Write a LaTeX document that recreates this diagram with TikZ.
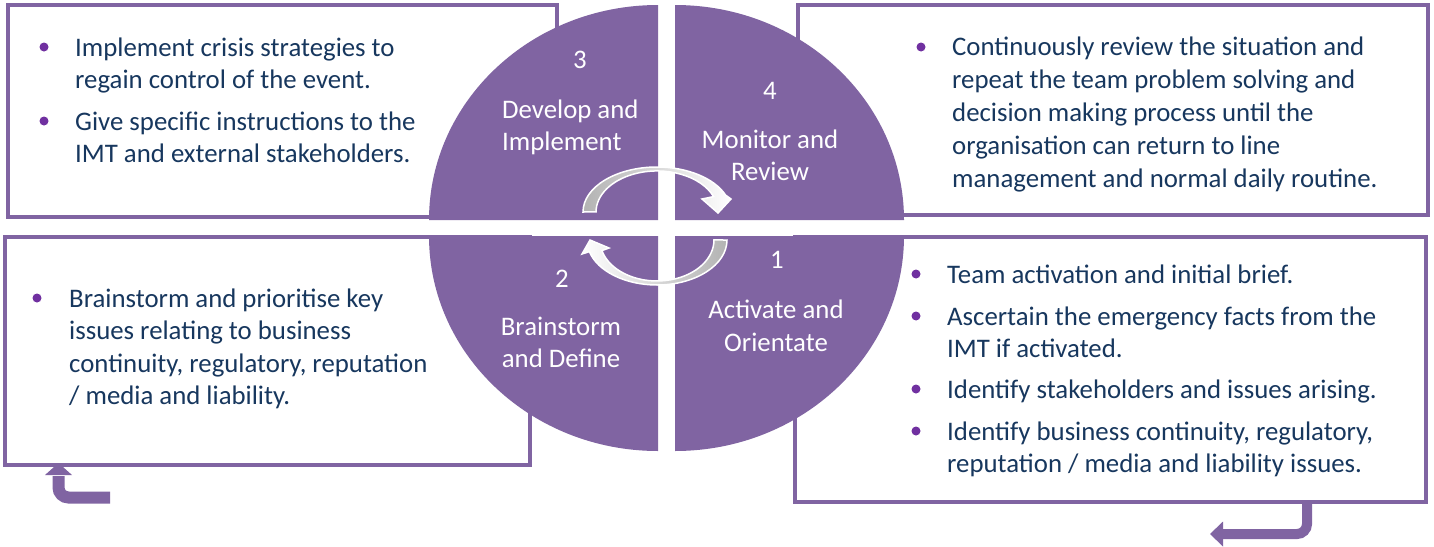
\documentclass[tikz,border=0pt]{standalone}
\usepackage{fontspec}
\setmainfont{Carlito}
\definecolor{purp}{HTML}{8064A2}
\definecolor{navy}{HTML}{17375E}
\definecolor{bulc}{HTML}{7030A0}
\newcommand\bodyfnt{\fontsize{26.8}{32.5}\selectfont}
\begin{document}
\begin{tikzpicture}[x=1pt,y=1pt,
  box/.style={draw=purp, line width=3.5pt},
  quad/.style={fill=purp},
  txt/.style={anchor=base west, inner sep=0pt, align=left, font=\bodyfnt, text=navy},
  dot/.style={circle, fill=bulc, inner sep=0pt, minimum size=9pt},
  lbl/.style={anchor=base, inner sep=0pt, align=center, font=\bodyfnt, text=white},
  lblL/.style={anchor=base west, inner sep=0pt, align=left, font=\bodyfnt, text=white},
  cyc/.style={draw=white, line width=1.5pt},
  bent/.style={draw=purp, rounded corners=10pt},
  head/.style={fill=purp}]
\path[use as bounding box, fill=white] (0,0) rectangle (1434,-546);

% text boxes
\draw[box] (8,-5) rectangle (557,-217);
\draw[box] (798,-5) rectangle (1428,-215);
\draw[box] (5,-237) rectangle (530,-465);
\draw[box] (795,-237) rectangle (1426,-502);

% circle quadrants
\fill[quad] (658,-220) -- (429,-220) arc[start angle=180, end angle=90, x radius=229pt, y radius=215pt] -- cycle;
\fill[quad] (675,-220) -- (904,-220) arc[start angle=0, end angle=90, x radius=229pt, y radius=215pt] -- cycle;
\fill[quad] (658,-236) -- (429,-236) arc[start angle=180, end angle=270, x radius=229pt, y radius=215pt] -- cycle;
\fill[quad] (675,-236) -- (904,-236) arc[start angle=0, end angle=-90, x radius=229pt, y radius=215pt] -- cycle;

% inner cycle arrows
\path[cyc, left color=black!30, middle color=black!8, right color=white]
  (583,-212) arc[start angle=180, end angle=22, x radius=74pt, y radius=45pt]
  -- (731,-199) -- (718,-213) -- (702,-199) -- (713.6,-196.6)
  arc[start angle=22, end angle=180, x radius=61pt, y radius=41pt] -- cycle;
\path[cyc, right color=black!30, middle color=black!8, left color=white]
  (727,-240) arc[start angle=0, end angle=-165, x radius=70pt, y radius=45pt]
  -- (582,-254) -- (590,-240) -- (609,-248) -- (601.9,-250.6)
  arc[start angle=-165, end angle=0, x radius=57pt, y radius=41pt] -- cycle;

% quadrant labels (base anchor = last line)
\node[lbl] (n3) at (580,-68) {3};
\node[lblL] (l3) at (502,-150.5) {Develop and\\Implement};
\node[lbl] (n4) at (770,-99) {4};
\node[lbl] (l4) at (770,-180.5) {Monitor and\\Review};
\node[lbl] (n1) at (777,-268) {1};
\node[lbl] (l1) at (776,-351) {Activate and\\Orientate};
\node[lbl] (n2) at (562,-287) {2};
\node[lbl] (l2) at (561,-367.5) {Brainstorm\\and Define};

% top-left box
\node[dot] (d31) at (44,-47) {};
\node[txt] (t31) at (75,-88.5) {Implement crisis strategies to\\regain control of the event.};
\node[dot] (d32) at (44,-121) {};
\node[txt] (t32) at (75,-162.5) {Give specific instructions to the\\IMT and external stakeholders.};

% top-right box
\node[dot] (d41) at (921,-47) {};
\node[txt, font=\fontsize{26.8}{32.8}\selectfont] (t41) at (952,-187) {Continuously review the situation and\\repeat the team problem solving and\\decision making process until the\\organisation can return to line\\management and normal daily routine.};

% bottom-left box
\node[dot] (d21) at (37,-298) {};
\node[txt] (t21) at (69,-404.5) {Brainstorm and prioritise key\\issues relating to business\\continuity, regulatory, reputation\\/ media and liability.};

% bottom-right box
\node[dot] (d11) at (916,-274) {};
\node[txt] (t11) at (947,-283) {Team activation and initial brief.};
\node[dot] (d12) at (916,-316) {};
\node[txt] (t12) at (947,-357.5) {Ascertain the emergency facts from the\\IMT if activated.};
\node[dot] (d13) at (916,-389) {};
\node[txt] (t13) at (947,-398) {Identify stakeholders and issues arising.};
\node[dot] (d14) at (916,-431) {};
\node[txt] (t14) at (947,-472.5) {Identify business continuity, regulatory,\\reputation / media and liability issues.};

% bent arrows
\coordinate (a1s) at (110,-497.5);
\coordinate (a1c) at (58.5,-497.5);
\coordinate (a1e) at (58.5,-476);
\draw[bent, line width=12pt] (a1s) -- (a1c) -- (a1e);
\fill[head] (45,-475) -- (58.5,-463) -- (72,-475) -- cycle;
\coordinate (a2s) at (1307,-501);
\coordinate (a2c) at (1307,-534);
\coordinate (a2e) at (1221,-534);
\draw[bent, line width=10pt] (a2s) -- (a2c) -- (a2e);
\fill[head] (1223,-521.5) -- (1210,-534) -- (1223,-546.5) -- cycle;
\end{tikzpicture}
\end{document}
